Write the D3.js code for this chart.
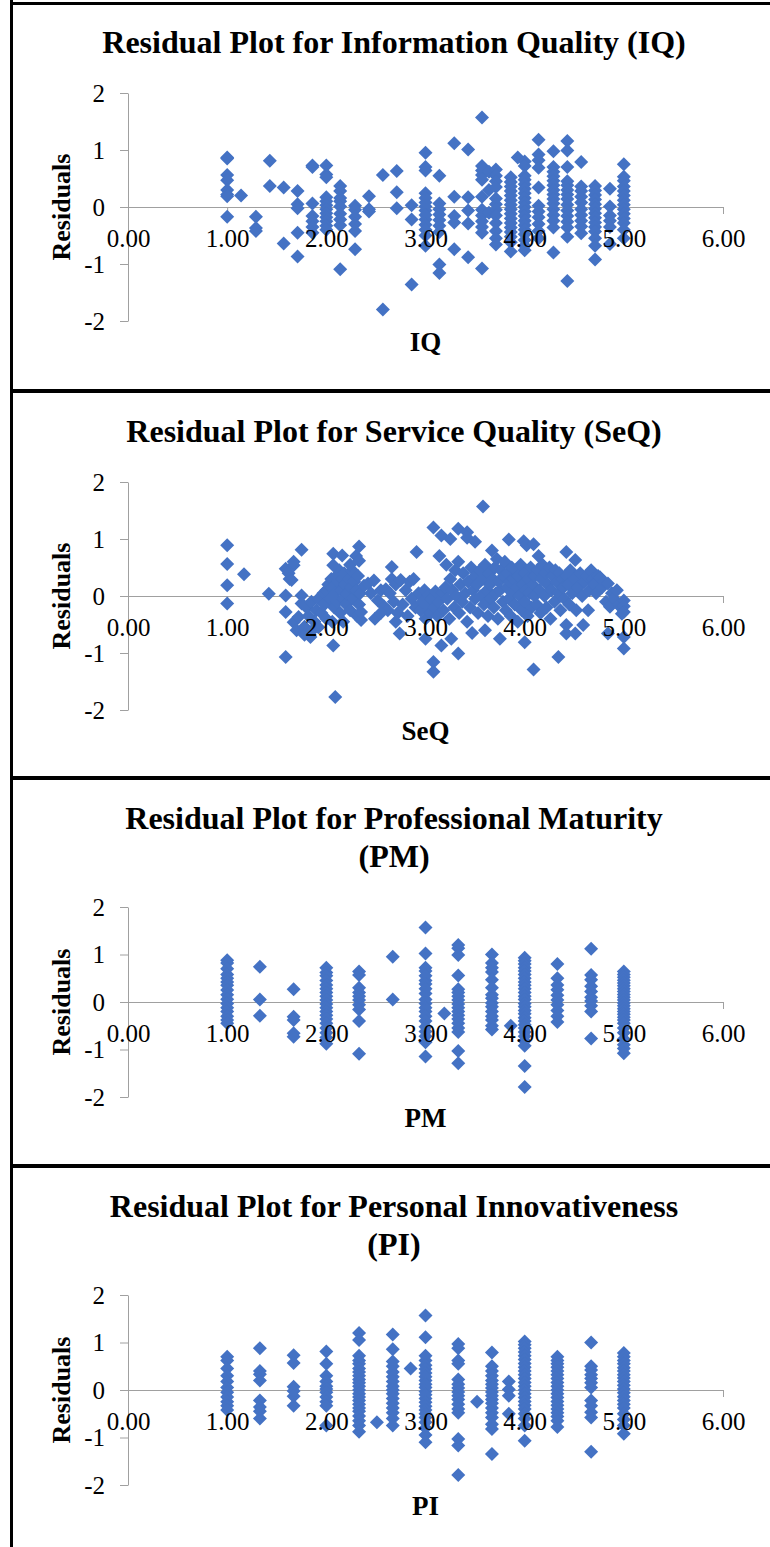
<!DOCTYPE html>
<html>
<head>
<meta charset="utf-8">
<script src="https://cdn.jsdelivr.net/npm/d3@7"></script>
<style>
  body { margin: 0; background: #fff; }
</style>
</head>
<body>
<div id="chart"></div>
<script>
// Axis ticks shared by all four residual plots.
const xTicks = [0, 1, 2, 3, 4, 5, 6];
const yTicks = [-2, -1, 0, 1, 2];

// IQ: [x, residuals at that x]
const iqColumns = [
  [1.00, [0.87, 0.85, 0.56, 0.47, 0.30, 0.22, 0.19, -0.17]],
  [1.14, [0.20]],
  [1.29, [-0.17, -0.37, -0.42]],
  [1.43, [0.81, 0.37]],
  [1.57, [0.34, -0.64]],
  [1.71, [0.28, 0.05, -0.02, -0.45, -0.87]],
  [1.86, [0.73, 0.70, 0.06, -0.16, -0.25, -0.35, -0.45]],
  [2.00, [0.73, 0.57, 0.52, 0.17, 0.10, 0.03, -0.04, -0.11, -0.18, -0.25, -0.33, -0.40]],
  [2.14, [0.37, 0.28, 0.16, 0.10, 0.01, -0.12, -0.22, -0.32, -1.09]],
  [2.29, [0.02, -0.05, -0.17, -0.30, -0.42, -0.74]],
  [2.43, [0.19, -0.04, -0.08]],
  [2.57, [0.56, -1.80]],
  [2.71, [0.63, 0.26, -0.02]],
  [2.86, [0.03, -0.22, -1.36]],
  [3.00, [0.95, 0.70, 0.64, 0.24, 0.16, 0.08, 0.01, -0.06, -0.14, -0.22, -0.31, -0.40, -0.50, -0.68]],
  [3.14, [0.55, 0.06, -0.04, -0.13, -0.23, -0.33, -0.44, -1.01, -1.16]],
  [3.29, [1.12, 0.18, -0.16, -0.27, -0.74]],
  [3.43, [1.01, 0.17, -0.06, -0.29, -0.88]],
  [3.57, [1.57, 0.72, 0.64, 0.56, 0.48, 0.18, -0.05, -0.15, -0.25, -0.35, -0.45, -1.08]],
  [3.64, [0.62, 0.30, -0.10]],
  [3.71, [0.66, 0.55, 0.45, 0.35, 0.15, 0.05, -0.05, -0.15, -0.28, -0.42, -0.55, -0.66]],
  [3.86, [0.52, 0.44, 0.36, 0.28, 0.20, 0.12, 0.04, -0.04, -0.12, -0.20, -0.28, -0.36, -0.44, -0.52, -0.62, -0.78]],
  [3.93, [0.87]],
  [4.00, [0.80, 0.72, 0.55, 0.48, 0.40, 0.32, 0.24, 0.16, 0.08, 0.00, -0.08, -0.16, -0.24, -0.32, -0.40, -0.48, -0.58, -0.68, -0.76]],
  [4.14, [1.18, 0.92, 0.82, 0.69, 0.34, 0.02, -0.08, -0.18, -0.30, -0.42, -0.55]],
  [4.29, [0.98, 0.70, 0.62, 0.54, 0.46, 0.38, 0.30, 0.22, 0.14, 0.06, -0.04, -0.14, -0.24, -0.36, -0.80]],
  [4.43, [1.16, 0.99, 0.70, 0.45, 0.38, 0.30, 0.22, 0.14, 0.04, -0.06, -0.16, -0.26, -0.36, -0.52, -1.30]],
  [4.57, [0.79, 0.36, 0.28, 0.18, 0.08, -0.04, -0.14, -0.24, -0.34, -0.46]],
  [4.71, [0.37, 0.29, 0.21, 0.13, 0.05, -0.03, -0.11, -0.19, -0.27, -0.35, -0.43, -0.55, -0.68, -0.92]],
  [4.86, [0.32, 0.01, -0.15, -0.24, -0.35, -0.65]],
  [5.00, [0.75, 0.53, 0.46, 0.36, 0.28, 0.20, 0.12, 0.04, -0.04, -0.12, -0.20, -0.28, -0.40, -0.55]]
];

// SeQ: [x, residual] pairs (x is nearly continuous)
const seqPoints = [
  [1.00, 0.89], [1.00, 0.56], [1.00, 0.19], [1.00, -0.13], [1.17, 0.38], [1.42, 0.04],
  [1.59, 0.48], [1.62, 0.40], [1.67, 0.54], [1.67, 0.60], [1.63, 0.30], [1.65, 0.28],
  [1.59, 0.01], [1.59, -0.28], [1.67, -0.46], [1.70, -0.60], [1.59, -1.07],
  [1.75, 0.81], [1.75, 0.01], [1.75, -0.13], [1.72, -0.37], [1.78, -0.54], [1.84, -0.72],
  [1.80, -0.20], [1.82, -0.35], [1.85, -0.10], [1.88, -0.45], [1.90, -0.25], [1.92, -0.05],
  [1.95, -0.30], [1.97, 0.05], [1.98, -0.15], [2.00, 0.10], [2.00, -0.40], [1.86, -0.60],
  [1.92, -0.55], [1.78, -0.68],
  [2.02, 0.20], [2.04, -0.05], [2.05, 0.30], [2.06, 0.15], [2.08, -0.20], [2.09, 0.05],
  [2.10, 0.35], [2.11, -0.10], [2.12, 0.25], [2.13, 0.45], [2.14, -0.30], [2.15, 0.10],
  [2.16, 0.30], [2.17, -0.05], [2.18, 0.40], [2.19, 0.20], [2.20, -0.15], [2.21, 0.05],
  [2.22, 0.30], [2.24, -0.25], [2.25, 0.15], [2.26, 0.45], [2.27, -0.05], [2.28, 0.25],
  [2.30, 0.10], [2.31, -0.35], [2.32, 0.35], [2.33, -0.15], [2.34, 0.05], [2.06, -0.45],
  [2.17, -0.45], [2.24, 0.55], [2.30, 0.70], [2.33, 0.87], [2.33, 0.62], [2.07, 0.74],
  [2.16, 0.71], [2.07, 0.54], [2.07, -0.87], [2.09, -1.77], [2.35, -0.42], [2.35, -0.28],
  [2.38, 0.18], [2.42, 0.22], [2.45, 0.05], [2.48, 0.27], [2.49, -0.40], [2.52, -0.08],
  [2.55, 0.10], [2.58, -0.18], [2.60, 0.12], [2.62, -0.25], [2.64, 0.05], [2.66, 0.51],
  [2.66, 0.30], [2.68, -0.10], [2.70, 0.20], [2.72, -0.30], [2.74, -0.66], [2.75, 0.28],
  [2.77, -0.15], [2.80, 0.10], [2.82, -0.35], [2.84, 0.25], [2.86, -0.05], [2.88, 0.30],
  [2.91, 0.77], [2.90, -0.20], [2.55, -0.30], [2.70, -0.45],
  [2.93, 0.05], [2.95, -0.25], [2.97, -0.10], [2.99, 0.10], [3.00, -0.40], [3.00, -0.75],
  [3.01, -0.15], [3.03, 0.02], [3.05, -0.30], [3.06, -0.05], [3.08, 1.20], [3.08, -1.16],
  [3.08, -1.33], [3.09, -0.20], [3.10, 0.08], [3.12, -0.35], [3.13, -0.10], [3.14, 0.70],
  [3.16, 1.06], [3.16, -0.87], [3.17, 0.05], [3.18, -0.25], [3.20, 0.15], [3.21, 0.55],
  [3.22, -0.05], [3.24, -0.40], [3.25, 1.00], [3.25, 0.30], [3.26, -0.75], [3.27, 0.10],
  [3.29, -0.20], [3.30, 0.45], [3.31, 0.00], [3.33, 1.18], [3.33, -1.01], [3.33, 0.60],
  [3.34, -0.30], [3.35, 0.20], [3.37, -0.10], [3.38, 0.40], [3.40, 0.05], [3.42, 1.12],
  [3.42, 1.02], [3.42, -0.45], [3.43, 0.25], [3.45, -0.20], [3.46, 0.50], [3.47, -0.65],
  [3.48, 0.10], [3.50, 0.95], [3.50, -0.05], [3.50, 0.35],
  [3.52, 0.20], [3.53, -0.30], [3.55, 0.45], [3.56, 0.00], [3.58, 1.57], [3.58, 0.30],
  [3.59, -0.15], [3.60, 0.55], [3.60, -0.60], [3.62, 0.10], [3.63, -0.35], [3.64, 0.40],
  [3.65, 0.20], [3.66, -0.05], [3.67, 0.80], [3.68, 0.30], [3.69, -0.20], [3.70, 0.50],
  [3.71, 0.05], [3.72, 0.65], [3.73, -0.40], [3.74, 0.25], [3.75, -0.75], [3.75, 0.10],
  [3.76, 0.45], [3.78, -0.10], [3.79, 0.35], [3.80, 0.60], [3.81, -0.25], [3.82, 0.15],
  [3.83, 0.40], [3.84, 0.99], [3.84, -0.05], [3.85, 0.25], [3.86, -0.35], [3.87, 0.50],
  [3.88, 0.05], [3.89, 0.30], [3.90, -0.15], [3.91, 0.45], [3.92, 0.15], [3.93, -0.45],
  [3.94, 0.35], [3.95, 0.00], [3.96, 0.55], [3.97, -0.25], [3.98, 0.20], [3.99, 0.96],
  [4.00, 0.40], [4.00, -0.81], [4.00, -0.10], [4.01, 0.10], [4.02, 0.89], [4.03, -0.35],
  [4.04, 0.30], [4.05, 0.05], [4.06, 0.50], [4.07, -0.20], [4.08, 0.20], [4.09, -1.29],
  [4.09, 0.91], [4.10, 0.00], [4.10, 0.35],
  [4.12, -0.15], [4.13, 0.45], [4.14, 0.70], [4.15, 0.10], [4.16, -0.30], [4.17, 0.30],
  [4.18, 0.55], [4.20, 0.00], [4.21, 0.40], [4.22, -0.20], [4.23, 0.20], [4.25, 0.50],
  [4.26, -0.40], [4.27, 0.10], [4.28, 0.35], [4.30, -0.10], [4.31, 0.45], [4.32, 0.25],
  [4.34, -1.07], [4.34, 0.05], [4.35, 0.40], [4.36, -0.25], [4.38, 0.30], [4.39, 0.15],
  [4.40, -0.05], [4.42, 0.77], [4.42, -0.51], [4.42, -0.66], [4.42, 0.35], [4.44, 0.20],
  [4.45, -0.15], [4.46, 0.45], [4.48, 0.05], [4.50, 0.30], [4.51, 0.63], [4.51, -0.66],
  [4.52, -0.25], [4.54, 0.15], [4.56, 0.40], [4.58, 0.00], [4.59, -0.51], [4.60, 0.25],
  [4.62, 0.35], [4.64, -0.25], [4.65, 0.10], [4.67, 0.45], [4.68, 0.30], [4.70, 0.20],
  [4.72, 0.05], [4.74, 0.35], [4.76, 0.33], [4.78, 0.15], [4.80, 0.25], [4.82, -0.10],
  [4.84, 0.22], [4.84, -0.66], [4.86, -0.19], [4.88, 0.05], [4.90, -0.05], [4.93, 0.10],
  [4.95, -0.15], [4.97, -0.20], [5.00, -0.08], [5.00, -0.18], [5.00, -0.28], [5.00, -0.72],
  [5.00, -0.92], [4.98, -0.31]
];

// PM: [x, residuals at that x]
const pmColumns = [
  [1.00, [0.88, 0.82, 0.70, 0.58, 0.50, 0.42, 0.35, 0.25, 0.15, 0.06, -0.03, -0.12, -0.20, -0.30, -0.38, -0.45]],
  [1.33, [0.74, 0.05, -0.29]],
  [1.67, [0.27, -0.31, -0.38, -0.66, -0.73]],
  [2.00, [0.72, 0.62, 0.55, 0.45, 0.36, 0.28, 0.20, 0.12, 0.04, -0.04, -0.12, -0.20, -0.28, -0.36, -0.45, -0.55, -0.65, -0.75, -0.88]],
  [2.33, [0.64, 0.57, 0.30, 0.20, 0.12, 0.04, -0.06, -0.16, -0.40, -1.09]],
  [2.67, [0.95, 0.05]],
  [3.00, [1.57, 1.02, 0.72, 0.65, 0.55, 0.45, 0.38, 0.28, 0.18, 0.05, -0.03, -0.12, -0.20, -0.30, -0.40, -0.52, -0.62, -0.72, -0.85, -1.15]],
  [3.19, [-0.24]],
  [3.33, [1.20, 1.13, 0.99, 0.56, 0.27, 0.20, 0.12, 0.04, -0.04, -0.12, -0.20, -0.28, -0.36, -0.45, -0.55, -0.63, -1.03, -1.29]],
  [3.67, [1.00, 0.82, 0.72, 0.63, 0.47, 0.30, 0.15, 0.08, -0.02, -0.10, -0.20, -0.30, -0.38, -0.50, -0.58]],
  [3.86, [-0.50]],
  [4.00, [0.93, 0.87, 0.80, 0.72, 0.65, 0.58, 0.50, 0.42, 0.35, 0.28, 0.20, 0.12, 0.05, -0.03, -0.10, -0.18, -0.25, -0.33, -0.40, -0.48, -0.55, -0.63, -0.72, -0.82, -0.92, -1.35, -1.79]],
  [4.33, [0.80, 0.50, 0.36, 0.26, 0.14, 0.04, -0.06, -0.18, -0.30, -0.42]],
  [4.67, [1.12, 0.57, 0.47, 0.33, 0.22, 0.10, 0.02, -0.08, -0.20, -0.77]],
  [5.00, [0.64, 0.58, 0.52, 0.46, 0.40, 0.34, 0.28, 0.22, 0.16, 0.10, 0.04, -0.02, -0.08, -0.14, -0.20, -0.26, -0.32, -0.38, -0.45, -0.55, -0.65, -0.78, -0.90, -0.98, -1.08]]
];

// PI: [x, residuals at that x]
const piColumns = [
  [1.00, [0.70, 0.62, 0.45, 0.30, 0.18, 0.05, -0.05, -0.15, -0.25, -0.33, -0.42]],
  [1.33, [0.88, 0.40, 0.33, 0.20, -0.22, -0.36, -0.45, -0.60]],
  [1.67, [0.73, 0.57, 0.07, -0.02, -0.13, -0.33]],
  [2.00, [0.81, 0.55, 0.30, 0.18, 0.08, 0.02, -0.05, -0.15, -0.25, -0.33, -0.75]],
  [2.33, [1.20, 1.05, 0.72, 0.62, 0.55, 0.45, 0.38, 0.30, 0.22, 0.15, 0.08, 0.00, -0.08, -0.15, -0.22, -0.30, -0.38, -0.45, -0.55, -0.65, -0.75, -0.88]],
  [2.51, [-0.68]],
  [2.67, [1.17, 0.86, 0.60, 0.50, 0.38, 0.28, 0.18, 0.08, 0.00, -0.08, -0.18, -0.28, -0.38, -0.48, -0.60, -0.75]],
  [2.85, [0.45]],
  [3.00, [1.57, 1.11, 0.72, 0.62, 0.52, 0.44, 0.36, 0.28, 0.20, 0.12, 0.05, -0.03, -0.10, -0.18, -0.26, -0.34, -0.42, -0.50, -0.58, -0.68, -0.80, -0.95, -1.10]],
  [3.33, [0.97, 0.88, 0.62, 0.55, 0.22, 0.12, 0.04, -0.04, -0.12, -0.20, -0.30, -0.40, -0.48, -1.03, -1.17, -1.79]],
  [3.52, [-0.25]],
  [3.67, [0.79, 0.50, 0.40, 0.30, 0.20, 0.12, 0.04, -0.04, -0.12, -0.20, -0.28, -0.38, -0.48, -0.58, -0.72, -0.82, -1.35]],
  [3.84, [0.18, 0.01, -0.12, -0.50]],
  [4.00, [1.02, 0.95, 0.88, 0.80, 0.72, 0.64, 0.56, 0.48, 0.40, 0.32, 0.24, 0.16, 0.08, 0.00, -0.08, -0.16, -0.24, -0.32, -0.40, -0.50, -0.60, -0.75, -1.07]],
  [4.33, [0.70, 0.62, 0.55, 0.48, 0.40, 0.32, 0.24, 0.16, 0.08, 0.00, -0.08, -0.16, -0.24, -0.32, -0.40, -0.48, -0.56, -0.65, -0.78]],
  [4.67, [1.00, 0.50, 0.42, 0.32, 0.24, 0.15, 0.05, -0.22, -0.33, -0.47, -0.58, -1.30]],
  [5.00, [0.78, 0.70, 0.62, 0.55, 0.47, 0.40, 0.32, 0.25, 0.18, 0.10, 0.02, -0.06, -0.14, -0.22, -0.30, -0.38, -0.50, -0.62, -0.75, -0.92]]
];

const flatten = columns => columns.flatMap(([x, ys]) => ys.map(y => [x, y]));

const panels = [
  { title: ["Residual Plot for Information Quality (IQ)"], axisLabel: "IQ", points: flatten(iqColumns) },
  { title: ["Residual Plot for Service Quality (SeQ)"], axisLabel: "SeQ", points: seqPoints },
  { title: ["Residual Plot for Professional Maturity", "(PM)"], axisLabel: "PM", points: flatten(pmColumns) },
  { title: ["Residual Plot for Personal Innovativeness", "(PI)"], axisLabel: "PI", points: flatten(piColumns) }
];

// Page and panel layout.
const width = 770;
const height = 1547;
const panelTops = [0, 389, 776, 1164];
const plotLeft = 128;
const plotRight = 723;
const titleX = 394;
const serif = "'Liberation Serif', 'Times New Roman', serif";
const axisColor = "#a0a0a0";
const markerColor = "#4472c4";

const svg = d3.select("#chart")
    .append("svg")
    .attr("width", width)
    .attr("height", height)
    .attr("viewBox", [0, 0, width, height]);

const diamond = d3.symbol(d3.symbolSquare, 98);
// Plain hyphen for negatives, as in the source chart.
const intFormat = d => String(d);
const xFormat = d => d.toFixed(2);

panels.forEach((panel, i) => {
    const top = panelTops[i];
    const plotTop = top + (panel.title.length > 1 ? 131 : 93);
    const plotBottom = top + 321;

    const x = d3.scaleLinear().domain([0, 6]).range([plotLeft, plotRight]);
    const y = d3.scaleLinear().domain([-2, 2]).range([plotBottom, plotTop]);

    const yAxis = d3.axisLeft(y).tickValues(yTicks).tickSize(8).tickSizeOuter(0).tickPadding(15).tickFormat(intFormat);
    const xAxis = d3.axisBottom(x).tickValues(xTicks).tickSize(7).tickSizeOuter(0).tickPadding(15).tickFormat(xFormat);

    const g = svg.append("g");

    // Title (one or two lines).
    g.append("text")
        .attr("x", titleX)
        .attr("y", top + 53)
        .attr("text-anchor", "middle")
        .attr("font-family", serif)
        .attr("font-weight", "bold")
        .attr("font-size", 32)
        .selectAll("tspan")
        .data(panel.title)
        .join("tspan")
            .attr("x", titleX)
            .attr("dy", (d, j) => j === 0 ? 0 : 38)
            .text(d => d);

    // Axis lines and ticks go under the markers.
    const yLines = g.append("g")
        .attr("transform", `translate(${plotLeft},0)`)
        .call(yAxis);
    const xLines = g.append("g")
        .attr("transform", `translate(0,${y(0)})`)
        .call(xAxis);
    [yLines, xLines].forEach(a => {
        a.selectAll("text").remove();
        a.selectAll("path, line").attr("stroke", axisColor);
    });

    // Axis titles.
    g.append("text")
        .attr("x", (plotLeft + plotRight) / 2)
        .attr("y", top + 351)
        .attr("text-anchor", "middle")
        .attr("font-family", serif)
        .attr("font-weight", "bold")
        .attr("font-size", 27)
        .text(panel.axisLabel);

    g.append("text")
        .attr("transform", `translate(70,${(plotTop + plotBottom) / 2}) rotate(-90)`)
        .attr("text-anchor", "middle")
        .attr("font-family", serif)
        .attr("font-weight", "bold")
        .attr("font-size", 26)
        .text("Residuals");

    // Residual markers.
    g.append("g")
        .attr("fill", markerColor)
        .selectAll("path")
        .data(panel.points)
        .join("path")
            .attr("transform", d => `translate(${x(d[0])},${y(d[1])}) rotate(45)`)
            .attr("d", diamond);

    // Tick labels sit on top of the markers.
    const yLabels = g.append("g")
        .attr("transform", `translate(${plotLeft},0)`)
        .call(yAxis);
    const xLabels = g.append("g")
        .attr("transform", `translate(0,${y(0)})`)
        .call(xAxis);
    [yLabels, xLabels].forEach(a => {
        a.selectAll("path, line").remove();
        a.selectAll("text")
            .attr("font-family", serif)
            .attr("font-size", 25)
            .attr("fill", "#000");
    });
});

// Table borders around the panels.
svg.append("rect").attr("x", 10).attr("y", 0).attr("width", 3).attr("height", height).attr("fill", "#000");
svg.append("rect").attr("x", 10).attr("y", 2).attr("width", width - 10).attr("height", 3).attr("fill", "#000");
panelTops.slice(1).forEach(t => {
    svg.append("rect").attr("x", 10).attr("y", t).attr("width", width - 10).attr("height", 4).attr("fill", "#000");
});
</script>
</body>
</html>
